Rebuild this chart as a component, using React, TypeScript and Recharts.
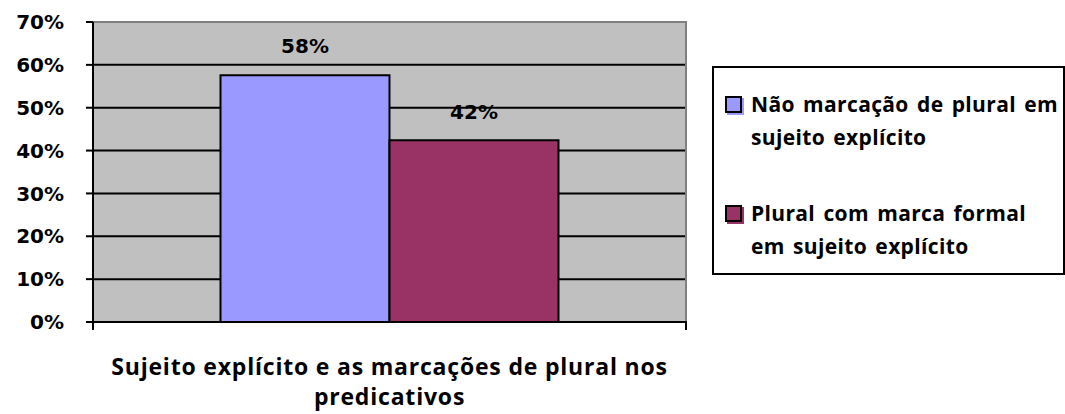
import { BarChart, Bar, XAxis, YAxis, CartesianGrid, LabelList, ReferenceArea } from 'recharts';

const categories = ['Sujeito explícito e as marcações de plural nos predicativos'];
const naoMarcacao = [57.6];
const pluralFormal = [42.4];
const yTicks = [0, 10, 20, 30, 40, 50, 60, 70];

const seriesNames = ['Não marcação de plural em sujeito explícito', 'Plural com marca formal em sujeito explícito'];
const legendLines = [
  ['Não marcação de plural em', 'sujeito explícito'],
  ['Plural com marca formal', 'em sujeito explícito'],
];
const colors = ['#9999FF', '#993366'];

const titleLines = ['Sujeito explícito e as marcações de plural nos', 'predicativos'];

const data = categories.map((c, i) => ({ name: c, a: naoMarcacao[i], b: pluralFormal[i] }));

const tickFont = { fontFamily: 'DejaVu Sans', fontWeight: 700, fontSize: 20, fill: '#000' };
const textFont = 'Open Sans';

// tick marks sit on the category edges, not the centre
function EdgeTicks(props: any) {
  const { x, y, payload } = props;
  const half = payload && payload.offset != null ? payload.offset : 0;
  return (
    <g>
      <line x1={x - half} x2={x - half} y1={y - 1} y2={y + 8} stroke="#000" strokeWidth={2} />
      <line x1={x + half} x2={x + half} y1={y - 1} y2={y + 8} stroke="#000" strokeWidth={2} />
    </g>
  );
}

function Title(props: any) {
  const vb = props.viewBox;
  const cx = vb.x + vb.width / 2;
  return (
    <text textAnchor="middle" fontFamily={textFont} fontWeight={700} fontSize={23} letterSpacing={0.8} fill="#000">
      <tspan x={cx} y={vb.y + 53}>{titleLines[0]}</tspan>
      <tspan x={cx} y={vb.y + 83}>{titleLines[1]}</tspan>
    </text>
  );
}

export default function App() {
  return (
    <div style={{ position: 'absolute', left: 0, top: 0, width: 1065, height: 414, background: '#fff' }}>
      <BarChart
        width={1065}
        height={414}
        data={data}
        margin={{ top: 22, right: 379, bottom: 0, left: 0 }}
        barCategoryGap="21.5%"
        barGap={0}
      >
        <CartesianGrid vertical={false} fill="#C0C0C0" stroke="#000" strokeWidth={2} fillOpacity={1} />
        <ReferenceArea y1={0} y2={70} fill="none" stroke="#808080" strokeWidth={2} ifOverflow="extendDomain" />
        <XAxis
          dataKey="name"
          height={92}
          tickSize={0}
          tickMargin={0}
          tickLine={false}
          tick={<EdgeTicks />}
          interval={0}
          axisLine={{ stroke: '#000', strokeWidth: 2 }}
          label={<Title />}
        />
        <YAxis
          width={93}
          domain={[0, 70]}
          ticks={yTicks}
          tickFormatter={(v: number) => `${v}%`}
          tick={tickFont}
          tickSize={7}
          tickMargin={22}
          axisLine={{ stroke: '#000', strokeWidth: 2 }}
          tickLine={{ stroke: '#000', strokeWidth: 2 }}
          interval={0}
        />
        <Bar dataKey="a" name={seriesNames[0]} fill={colors[0]} stroke="#000" strokeWidth={2} isAnimationActive={false}>
          <LabelList dataKey="a" position="top" offset={22} formatter={(v: any) => `${Math.round(v)}%`} style={tickFont} />
        </Bar>
        <Bar dataKey="b" name={seriesNames[1]} fill={colors[1]} stroke="#000" strokeWidth={2} isAnimationActive={false}>
          <LabelList dataKey="b" position="top" offset={21} formatter={(v: any) => `${Math.round(v)}%`} style={tickFont} />
        </Bar>
      </BarChart>
      <div
        style={{
          position: 'absolute',
          left: 712,
          top: 66,
          width: 349,
          height: 205,
          border: '2px solid #000',
          background: '#fff',
          fontFamily: textFont,
          fontWeight: 700,
          fontSize: 21,
          color: '#000',
        }}
      >
        {legendLines.map((lines, i) => (
          <div key={i} style={{ position: 'absolute', left: 11, top: i === 0 ? 27 : 136 }}>
            <div
              style={{
                position: 'absolute',
                left: 0,
                top: 1,
                width: 13,
                height: 13,
                background: colors[i],
                border: '2px solid #000',
                boxShadow: `2px 2px 0 ${colors[i]}`,
              }}
            />
            <div style={{ marginLeft: 26, lineHeight: '33px', marginTop: -7, whiteSpace: 'nowrap', letterSpacing: 0.35, wordSpacing: 2.5 }}>
              {lines.map((l, j) => (
                <div key={j}>{l}</div>
              ))}
            </div>
          </div>
        ))}
      </div>
    </div>
  );
}
